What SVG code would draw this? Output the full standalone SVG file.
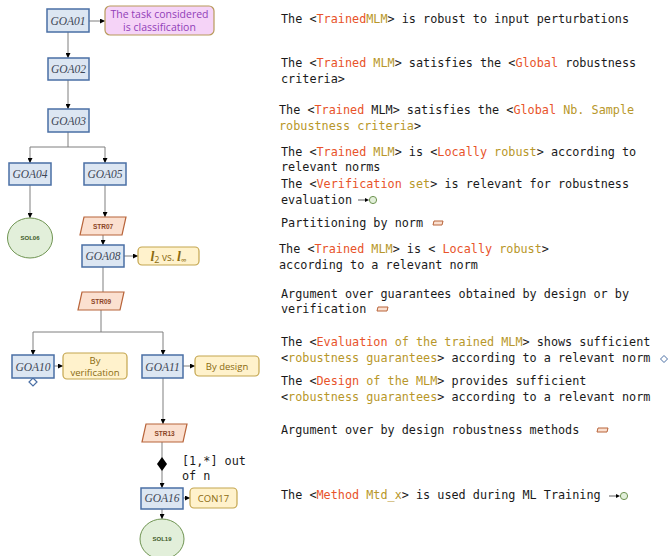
<svg xmlns="http://www.w3.org/2000/svg" width="670" height="556" viewBox="0 0 670 556">
  <defs>
    <marker id="arr" viewBox="0 0 6 6" refX="6" refY="3" markerWidth="5" markerHeight="5" orient="auto" markerUnits="userSpaceOnUse">
      <path d="M0,0 L6,3 L0,6 z" fill="#000"/>
    </marker>
    <style>
      .goal rect { fill: #dce6f2; stroke: #4a6fa5; stroke-width: 1.5; }
      .goal text { font-family: "Liberation Serif", serif; font-style: italic; font-size: 11.5px; fill: #3c4656; text-anchor: middle; }
      .str polygon { fill: #fbe0d0; stroke: #b8643a; stroke-width: 1.2; }
      .str text { font-family: "Liberation Sans", sans-serif; font-weight: bold; font-size: 6.5px; fill: #8b4526; text-anchor: middle; }
      .sol ellipse { fill: #e2efda; stroke: #6f9452; stroke-width: 1; }
      .sol text { font-family: "Liberation Sans", sans-serif; font-weight: bold; font-size: 6px; fill: #3d5a26; text-anchor: middle; }
      .ctx rect { fill: #fff2cc; stroke: #c4a54e; stroke-width: 1.2; }
      .ctx text { font-family: "Open Sans", "Liberation Sans", sans-serif; font-size: 9.5px; fill: #8a6a10; text-anchor: middle; }
      .asm rect { fill: #f5d3f7; stroke: #b89a5a; stroke-width: 1.2; }
      .asm text { font-family: "Open Sans", "Liberation Sans", sans-serif; font-size: 10.5px; fill: #9140b8; text-anchor: middle; }
      .conn path { fill: none; stroke: #7f7f7f; stroke-width: 1; }
      .conn path.soft { stroke: #b8b8b8; stroke-width: 1.8; }
      .desc { font-family: "DejaVu Sans Mono", "Liberation Mono", monospace; font-size: 11.8px; fill: #1a1a1a; }
      .o { fill: #e8532a; }
      .g { fill: #b8972a; }
      .mono { font-family: "DejaVu Sans Mono", "Liberation Mono", monospace; font-size: 11.8px; fill: #1a1a1a; }
      .it { font-family: "Liberation Serif", serif; font-style: italic; font-weight: bold; font-size: 14px; }
    </style>
  </defs>

  <!-- connectors -->
  <g id="connectors" class="conn">
    <path d="M68,32 V58" marker-end="url(#arr)"/>
    <path d="M89,21 H105" marker-end="url(#arr)"/>
    <path d="M68,80 V109" marker-end="url(#arr)"/>
    <path d="M68,132 V147"/>
    <path d="M68,147 H30 V163" marker-end="url(#arr)"/>
    <path d="M68,147 H105 V163" marker-end="url(#arr)"/>
    <path d="M30,185 V218" marker-end="url(#arr)"/>
    <path class="soft" d="M105,185 V217" marker-end="url(#arr)"/>
    <path d="M103,235 V245" marker-end="url(#arr)"/>
    <path d="M124,256 H138" marker-end="url(#arr)"/>
    <path class="soft" d="M103,267 V292"/>
    <path d="M101,310 V332"/>
    <path d="M101,332 H33 V355" marker-end="url(#arr)"/>
    <path d="M101,332 H163 V355" marker-end="url(#arr)"/>
    <path d="M54,366 H63" marker-end="url(#arr)"/>
    <path d="M183,366 H195" marker-end="url(#arr)"/>
    <path class="soft" d="M163,378 V424" marker-end="url(#arr)"/>
    <path class="soft" d="M162,442 V488" marker-end="url(#arr)"/>
    <path d="M183,498 H190" marker-end="url(#arr)"/>
    <path d="M162,509 V519" marker-end="url(#arr)"/>
  </g>
  <!-- one-or-more choice marker -->
  <polygon points="162,457 167,464 162,471 157,464" fill="#000"/>
  <!-- undeveloped marker under GOA10 -->
  <polygon points="33,378 37,382 33,386 29,382" fill="#fff" stroke="#4a6fa5" stroke-width="1.2"/>
  <text class="mono" x="182" y="465">[1,*] out</text>
  <text class="mono" x="182" y="480">of n</text>

  <!-- goals -->
  <g id="GOA01" class="goal"><rect x="47" y="9" width="42" height="23"/><text x="68" y="25">GOA01</text></g>
  <g id="GOA02" class="goal"><rect x="48" y="58" width="41" height="22"/><text x="68.5" y="73">GOA02</text></g>
  <g id="GOA03" class="goal"><rect x="48" y="109" width="41" height="23"/><text x="68.5" y="125">GOA03</text></g>
  <g id="GOA04" class="goal"><rect x="9" y="163" width="42" height="22"/><text x="30" y="178">GOA04</text></g>
  <g id="GOA05" class="goal"><rect x="84" y="163" width="42" height="22"/><text x="105" y="178">GOA05</text></g>
  <g id="GOA08" class="goal"><rect x="82" y="245" width="42" height="22"/><text x="103" y="260">GOA08</text></g>
  <g id="GOA10" class="goal"><rect x="12" y="355" width="42" height="23"/><text x="33" y="371">GOA10</text></g>
  <g id="GOA11" class="goal"><rect x="142" y="355" width="41" height="23"/><text x="162.5" y="371">GOA11</text></g>
  <g id="GOA16" class="goal"><rect x="141" y="488" width="42" height="21"/><text x="162" y="502">GOA16</text></g>

  <!-- assumption -->
  <g id="ASS01" class="asm">
    <rect x="105" y="6" width="109" height="29" rx="5"/>
    <text x="159.5" y="18">The task considered</text>
    <text x="159.5" y="31">is classification</text>
  </g>

  <!-- strategies -->
  <g id="STR07" class="str"><polygon points="84,217 126,217 122,235 80,235"/><text x="103" y="228.5">STR07</text></g>
  <g id="STR09" class="str"><polygon points="82,292 124,292 120,310 78,310"/><text x="101" y="303.5">STR09</text></g>
  <g id="STR13" class="str"><polygon points="146,424 187,424 183,442 142,442"/><text x="164.5" y="435.5">STR13</text></g>

  <!-- solutions -->
  <g id="SOL06" class="sol"><ellipse cx="30" cy="238" rx="22.5" ry="20"/><text x="30" y="240">SOL06</text></g>
  <g id="SOL19" class="sol"><ellipse cx="162" cy="539" rx="22" ry="20"/><text x="162" y="541">SOL19</text></g>

  <!-- contexts -->
  <g id="CTX08" class="ctx">
    <rect x="138" y="247" width="61" height="18" rx="4"/>
    <text x="168.5" y="260.5"><tspan class="it">l</tspan><tspan font-size="9px" dy="2">2</tspan><tspan dy="-2" font-size="10px"> vs. </tspan><tspan class="it">l</tspan><tspan font-size="8px" dy="2">∞</tspan></text>
  </g>
  <g id="CTX10" class="ctx">
    <rect x="63" y="353" width="64" height="26" rx="4"/>
    <text x="95" y="364">By</text>
    <text x="95" y="375.5">verification</text>
  </g>
  <g id="CTX11" class="ctx">
    <rect x="195" y="356" width="64" height="20" rx="4"/>
    <text x="227" y="369.5">By design</text>
  </g>
  <g id="CON17" class="ctx">
    <rect x="190" y="488" width="47" height="20" rx="4"/>
    <text x="213.5" y="501.5">CON17</text>
  </g>

  <!-- descriptions -->
  <g id="descriptions" class="desc">
    <text x="281" y="23" xml:space="preserve">The &lt;<tspan class="o">Trained</tspan><tspan class="g">MLM</tspan>&gt; is robust to input perturbations</text>
    <text x="281" y="67" xml:space="preserve">The &lt;<tspan class="o">Trained</tspan> <tspan class="g">MLM</tspan>&gt; satisfies the &lt;<tspan class="o">Global</tspan> robustness</text>
    <text x="281" y="83">criteria&gt;</text>
    <text x="279" y="114" xml:space="preserve">The &lt;<tspan class="o">Trained</tspan> MLM&gt; satisfies the &lt;<tspan class="o">Global</tspan> <tspan class="g">Nb. Sample</tspan></text>
    <text x="279" y="130" xml:space="preserve"><tspan class="g">robustness criteria</tspan>&gt;</text>
    <text x="281" y="156" xml:space="preserve">The &lt;<tspan class="o">Trained</tspan> <tspan class="g">MLM</tspan>&gt; is &lt;<tspan class="o">Locally</tspan> <tspan class="g">robust</tspan>&gt; according to</text>
    <text x="281" y="171">relevant norms</text>
    <text x="281" y="188" xml:space="preserve">The &lt;<tspan class="o">Verification</tspan> <tspan class="g">set</tspan>&gt; is relevant for robustness</text>
    <text x="281" y="204">evaluation</text>
    <text x="281" y="227">Partitioning by norm</text>
    <text x="279" y="253" xml:space="preserve">The &lt;<tspan class="o">Trained</tspan> <tspan class="g">MLM</tspan>&gt; is &lt; <tspan class="o">Locally</tspan> <tspan class="g">robust</tspan>&gt;</text>
    <text x="279" y="269">according to a relevant norm</text>
    <text x="281" y="298">Argument over guarantees obtained by design or by</text>
    <text x="281" y="313">verification</text>
    <text x="281" y="346" xml:space="preserve">The &lt;<tspan class="o">Evaluation</tspan> <tspan class="g">of the trained MLM</tspan>&gt; shows sufficient</text>
    <text x="281" y="362" xml:space="preserve">&lt;<tspan class="g">robustness guarantees</tspan>&gt; according to a relevant norm</text>
    <text x="281" y="385" xml:space="preserve">The &lt;<tspan class="o">Design</tspan> <tspan class="g">of the MLM</tspan>&gt; provides sufficient</text>
    <text x="281" y="401" xml:space="preserve">&lt;<tspan class="g">robustness guarantees</tspan>&gt; according to a relevant norm</text>
    <text x="281" y="434">Argument over by design robustness methods</text>
    <text x="281" y="499" xml:space="preserve">The &lt;<tspan class="o">Method</tspan> <tspan class="g">Mtd_x</tspan>&gt; is used during ML Training</text>
  </g>

  <!-- inline node-type glyphs -->
  <g id="glyphs">
    <path d="M358,200 H366" stroke="#333" stroke-width="0.8"/>
    <path d="M365,198 L369,200 L365,202 z" fill="#000"/>
    <circle cx="373" cy="200" r="3.6" fill="#e2efda" stroke="#6f9452" stroke-width="1"/>
    <polygon points="434,221 443,221 442,225 433,225" fill="#fbe0d0" stroke="#b8643a" stroke-width="1"/>
    <polygon points="378,307 388,307 387,311 377,311" fill="#fbe0d0" stroke="#b8643a" stroke-width="1"/>
    <path d="M664,355.5 L667.5,359 L664,362.5 L660.5,359 z" fill="#fff" stroke="#4a6fa5" stroke-width="1"/>
    <polygon points="598,428 608,428 607,432 597,432" fill="#fbe0d0" stroke="#b8643a" stroke-width="1"/>
    <path d="M609,496 H617" stroke="#333" stroke-width="0.8"/>
    <path d="M616,494 L620,496 L616,498 z" fill="#000"/>
    <circle cx="624" cy="496" r="3.6" fill="#e2efda" stroke="#6f9452" stroke-width="1"/>
  </g>
</svg>
